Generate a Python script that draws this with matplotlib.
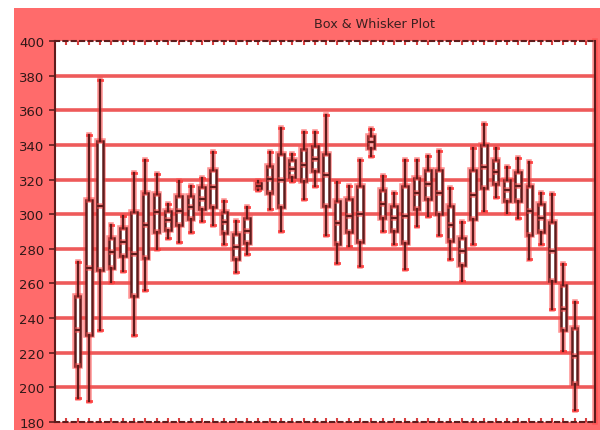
import matplotlib
matplotlib.use('Agg')
import matplotlib.pyplot as plt
import matplotlib.patheffects as pe
from matplotlib.patches import Rectangle

# five-number summaries, one entry per box
whisker_lo = [194, 192, 233, 261, 267, 230, 256.5, 280, 286, 284, 290, 296, 294, 283, 266.5,
              277, 314, 303, 290.5, 319, 308.5, 316.5, 288, 272, 281.5, 270, 333.5, 290.5, 282.5, 268.5,
              293, 299, 288, 274, 261.5, 282.5, 302, 310, 300.5, 298, 274, 282.5, 245, 221, 187]
q1 = [212.5, 230, 268, 269, 276, 253, 274.5, 290, 291, 293.5, 297.5, 303, 304, 289, 274,
      283.5, 315, 312.5, 304, 321.5, 319, 325, 305, 282.5, 290, 284, 338, 298, 290.5, 283.5,
      303, 308.5, 300, 284.5, 270.5, 297, 315, 317.5, 307.5, 307.5, 288, 290, 261.5, 233, 202]
medians = [233, 269, 305, 278, 284, 277, 293.5, 301, 296.5, 302, 304, 309, 315.5, 295.5, 281,
           290.5, 316.5, 320.5, 320, 326, 328.5, 332, 322.5, 295, 299, 300, 341.5, 306, 298, 299,
           312, 317.5, 312.5, 294, 278.5, 311, 327.5, 324.5, 314, 316.5, 302, 298, 279, 245.5, 218]
q3 = [253, 308, 342, 286, 292, 301, 312, 311.5, 302, 310.5, 310.5, 315.5, 325.5, 301.5, 288.5,
      298, 318, 328, 334.5, 331, 337.5, 339.5, 334.5, 307.5, 309, 316, 345, 314, 305, 316,
      321, 325.5, 325.5, 305, 286.5, 325.5, 340, 331.5, 320, 324.5, 316, 306, 295.5, 259, 234]
whisker_hi = [272.5, 345.5, 377.5, 294, 299, 324, 331, 323, 306, 319, 316.5, 321, 336, 307.5, 296,
              304, 319, 336, 350, 334.5, 347.5, 347.5, 357.5, 318.5, 316.5, 331.5, 349, 322, 312.5, 331.5,
              331, 333.5, 336.5, 315, 295.5, 338.5, 352, 338, 327, 332.5, 330, 312.5, 311.5, 271, 249.5]

y_ticks = [180, 200, 220, 240, 260, 280, 300, 320, 340, 360, 380, 400]

bg_red = '#ff6b6b'
grid_red = '#ee5a5a'
dark = '#5e1c1c'
halo = [pe.Stroke(linewidth=4, foreground='#ff4a4a', alpha=0.6), pe.Normal()]

fig = plt.figure(figsize=(6.0, 4.31), dpi=100)
fig.patch.set_facecolor('white')
# red panel with a thin white margin at top and left
panel = Rectangle((14/600, 0), 1 - 14/600, 1 - 9/431, transform=fig.transFigure,
                  facecolor=bg_red, edgecolor='none', zorder=-10)
fig.add_artist(panel)

ax = fig.add_axes([55/600, 8/431, 540/600, 381/431])
ax.set_zorder(5)
ax.set_facecolor('white')

stats = []
for i in range(len(medians)):
    stats.append({'whislo': whisker_lo[i], 'q1': q1[i], 'med': medians[i],
                  'q3': q3[i], 'whishi': whisker_hi[i]})
pos = list(range(1, len(stats) + 1))

bp = ax.bxp(stats, positions=pos, widths=0.5, patch_artist=True, showfliers=False,
            capwidths=0.35,
            boxprops=dict(facecolor='white', edgecolor=dark, linewidth=1.8),
            whiskerprops=dict(color=dark, linewidth=1.6),
            capprops=dict(color='#ff3a3a', linewidth=2),
            medianprops=dict(color=dark, linewidth=1.6))
for key in ['boxes', 'whiskers', 'medians']:
    for art in bp[key]:
        art.set_path_effects(halo)
        art.set_zorder(3)

for yv in y_ticks[1:-1]:
    ax.axhline(yv, color=grid_red, linewidth=2.6, zorder=1)

ax.set_ylim(180, 400)
ax.set_xlim(-1, 46.8)
ax.set_yticks(y_ticks)
ax.set_xticks(range(0, 47))
ax.set_xticklabels([])
ax.tick_params(axis='x', which='both', direction='in', length=3, width=1.5, color='#d94040',
               top=True, bottom=True)
ax.tick_params(axis='y', which='both', direction='out', length=4, width=1.2, color=dark,
               labelsize=9.5, labelcolor='#301818')
for s in ['left', 'right', 'top', 'bottom']:
    ax.spines[s].set_color(dark)
    ax.spines[s].set_linewidth(1.5)
ax.spines['right'].set_path_effects(halo)
ax.spines['top'].set_linestyle((0, (2, 2)))
ax.spines['bottom'].set_linestyle((0, (2, 2)))

fig.text(375/600, 1 - 25/431, 'Box & Whisker Plot', ha='center', va='center',
         fontsize=9.2, color='#3a2020')

fig.savefig('out.png', dpi=100, facecolor=fig.get_facecolor())
